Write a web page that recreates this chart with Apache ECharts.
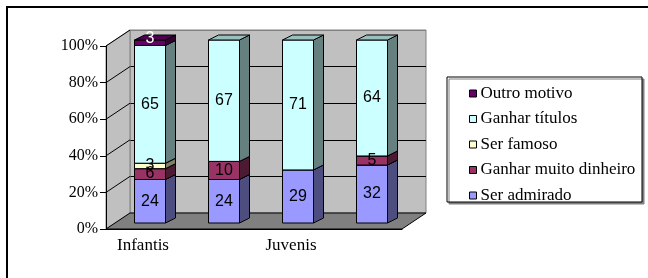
<!DOCTYPE html>
<html>
<head>
<meta charset="utf-8">
<script src="https://cdn.jsdelivr.net/npm/echarts@6/dist/echarts.min.js"></script>
<style>
  html, body { margin: 0; padding: 0; background: #fff; }
  #main { width: 648px; height: 278px; }
</style>
</head>
<body>
<div id="main"></div>
<script type="text/javascript">
    // dados do gráfico
    var categories = ['Infantis', ' ', 'Juvenis', '  '];
    var serAdmirado = [24, 24, 29, 32];
    var ganharDinheiro = [6, 10, 0, 5];
    var serFamoso = [3, 0, 0, 0];
    var ganharTitulos = [65, 67, 71, 64];
    var outroMotivo = [3, 0, 0, 0];
    var yTicks = [0, 20, 40, 60, 80, 100];
    var legendOrder = ['Outro motivo', 'Ganhar títulos', 'Ser famoso', 'Ganhar muito dinheiro', 'Ser admirado'];

    // camadas de baixo para cima
    var layers = [
        { name: 'Ser admirado', values: serAdmirado, color: '#9999FF', text: '#000' },
        { name: 'Ganhar muito dinheiro', values: ganharDinheiro, color: '#993366', text: '#000' },
        { name: 'Ser famoso', values: serFamoso, color: '#FFFFCC', text: '#000' },
        { name: 'Ganhar títulos', values: ganharTitulos, color: '#CCFFFF', text: '#000' },
        { name: 'Outro motivo', values: outroMotivo, color: '#660066', text: '#fff' }
    ];

    // profundidade da "caixa" 3D
    var WALL_DX = 24, WALL_DY = -16;
    var BAR_DX = 7, BAR_DY = -6, BAR_W = 31, DEP_X = 10, DEP_Y = -5;

    function shade(hex, f) {
        var n = parseInt(hex.slice(1), 16);
        var r = Math.round(((n >> 16) & 255) * f);
        var g = Math.round(((n >> 8) & 255) * f);
        var b = Math.round((n & 255) * f);
        return 'rgb(' + r + ',' + g + ',' + b + ')';
    }

    // totais para o empilhamento 100%
    var totals = categories.map(function (c, i) {
        return layers.reduce(function (s, l) { return s + l.values[i]; }, 0);
    });
    var base = categories.map(function () { return 0; });

    var barSeries = layers.map(function (layer, li) {
        var isTop = li === layers.length - 1;
        var data = layer.values.map(function (v, i) {
            var lo = base[i] / totals[i] * 100;
            base[i] += v;
            var hi = base[i] / totals[i] * 100;
            return [i, lo, hi, v];
        });
        return {
            name: layer.name,
            type: 'custom',
            xAxisIndex: 0,
            yAxisIndex: 0,
            z: 2,
            itemStyle: { color: layer.color },
            data: data,
            renderItem: function (params, api) {
                var val = api.value(3);
                if (!val) return;
                var cat = api.value(0);
                var pLo = api.coord([cat, api.value(1)]);
                var pHi = api.coord([cat, api.value(2)]);
                var x0 = pLo[0] + BAR_DX - BAR_W / 2, x1 = x0 + BAR_W;
                var yb = pLo[1] + BAR_DY, yt = pHi[1] + BAR_DY;
                var edge = { stroke: '#000', lineWidth: 1 };
                return {
                    type: 'group',
                    children: [
                        { type: 'rect', shape: { x: x0, y: yt, width: BAR_W, height: yb - yt },
                          style: Object.assign({ fill: layer.color }, edge) },
                        { type: 'polygon', shape: { points: [[x1, yb], [x1, yt], [x1 + DEP_X, yt + DEP_Y], [x1 + DEP_X, yb + DEP_Y]] },
                          style: Object.assign({ fill: shade(layer.color, 0.5) }, edge) },
                        { type: 'polygon', shape: { points: [[x0, yt], [x1, yt], [x1 + DEP_X, yt + DEP_Y], [x0 + DEP_X, yt + DEP_Y]] },
                          style: Object.assign({ fill: shade(layer.color, 0.75) }, edge) },
                        { type: 'text', x: (x0 + x1) / 2, y: (yt + yb) / 2 - (isTop ? 4 : 0), z2: 100,
                          style: { text: String(val), align: 'center', verticalAlign: 'middle',
                                   font: '16px "Liberation Sans", Arial, sans-serif', fill: layer.text } }
                    ]
                };
            }
        };
    });

    // parede lateral, chão e linhas diagonais
    var frameSeries = {
        type: 'custom',
        xAxisIndex: 0,
        yAxisIndex: 0,
        z: 1,
        silent: true,
        data: yTicks.map(function (v) { return [0, v]; }),
        renderItem: function (params, api) {
            var cs = params.coordSys;
            var y = api.coord([0, api.value(1)])[1];
            var children = [];
            if (params.dataIndex === 0) {
                var yb = cs.y + cs.height, xr = cs.x + cs.width;
                children.push({ type: 'polygon', z2: -2,
                    shape: { points: [[cs.x, yb], [cs.x, cs.y], [cs.x + WALL_DX, cs.y + WALL_DY], [cs.x + WALL_DX, yb + WALL_DY]] },
                    style: { fill: '#C0C0C0', stroke: '#808080', lineWidth: 1 } });
                children.push({ type: 'polygon', z2: -1,
                    shape: { points: [[cs.x, yb], [xr, yb], [xr + WALL_DX, yb + WALL_DY], [cs.x + WALL_DX, yb + WALL_DY]] },
                    style: { fill: '#808080', stroke: '#000', lineWidth: 1 } });
            }
            if (params.dataIndex > 0) {
                children.push({ type: 'line',
                    shape: { x1: cs.x, y1: y, x2: cs.x + WALL_DX, y2: y + WALL_DY },
                    style: { stroke: '#000', lineWidth: 1 } });
            }
            return { type: 'group', children: children };
        }
    };

    var myChart = echarts.init(document.getElementById('main'));

    var option = {
        animation: false,
        backgroundColor: '#fff',
        graphic: [
            { type: 'rect', shape: { x: 7, y: 7, width: 700, height: 320 },
              style: { fill: 'none', stroke: '#000', lineWidth: 2 } },
            { type: 'rect', shape: { x: 447, y: 77, width: 195, height: 125 },
              style: { fill: '#fff', stroke: '#000', lineWidth: 1,
                       shadowColor: '#808080', shadowOffsetX: 2, shadowOffsetY: 2 } }
        ],
        legend: {
            data: legendOrder,
            orient: 'vertical',
            left: 469,
            top: 85,
            padding: 0,
            itemGap: 8.5,
            itemWidth: 7,
            itemHeight: 7,
            icon: 'rect',
            itemStyle: { borderColor: '#000', borderWidth: 1 },
            textStyle: { fontFamily: '"Liberation Serif", "Times New Roman", serif', fontSize: 17,
                         lineHeight: 17, color: '#000', padding: [0, 0, 0, -1] },
            z: 10
        },
        grid: [
            { left: 106, top: 46, width: 296, height: 183 },
            { left: 106 + WALL_DX, top: 46 + WALL_DY, width: 296, height: 183,
              show: true, backgroundColor: '#C0C0C0', borderColor: '#808080', borderWidth: 1 }
        ],
        xAxis: [
            {
                type: 'category',
                gridIndex: 0,
                data: categories,
                z: 5,
                axisLine: { lineStyle: { color: '#000', width: 1 } },
                axisTick: { length: 5, lineStyle: { color: '#000' } },
                axisLabel: { margin: 8, color: '#000', fontSize: 17,
                             fontFamily: '"Liberation Serif", "Times New Roman", serif' }
            },
            { type: 'category', gridIndex: 1, data: categories, show: false }
        ],
        yAxis: [
            {
                type: 'value',
                gridIndex: 0,
                min: 0,
                max: 100,
                interval: 20,
                z: 5,
                axisLine: { show: true, lineStyle: { color: '#000', width: 1 } },
                axisTick: { show: true, length: 6, lineStyle: { color: '#000' } },
                splitLine: { show: false },
                axisLabel: { formatter: '{value}%', margin: 8, color: '#000', fontSize: 16,
                             fontFamily: '"Liberation Serif", "Times New Roman", serif' }
            },
            {
                type: 'value',
                gridIndex: 1,
                min: 0,
                max: 100,
                interval: 20,
                axisLine: { show: false },
                axisTick: { show: false },
                axisLabel: { show: false },
                splitLine: { show: true, lineStyle: { color: ['#808080', '#000', '#000', '#000', '#000', '#808080'], width: 1 } }
            }
        ],
        series: [frameSeries].concat(barSeries)
    };

    myChart.setOption(option);
</script>
</body>
</html>
